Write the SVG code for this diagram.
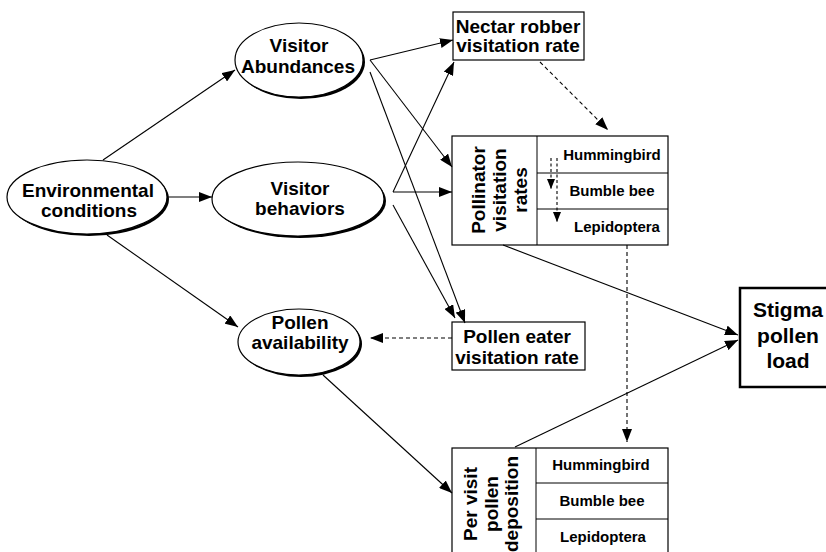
<svg xmlns="http://www.w3.org/2000/svg" width="826" height="552" viewBox="0 0 826 552">
<defs>
<marker id="ah" markerWidth="13" markerHeight="10" refX="13" refY="5" orient="auto" markerUnits="userSpaceOnUse"><path d="M0,0 L13,5 L0,10 z" fill="#000"/></marker>
<marker id="ahs" markerWidth="10" markerHeight="8" refX="10" refY="4" orient="auto" markerUnits="userSpaceOnUse"><path d="M0,0 L10,4 L0,8 z" fill="#000"/></marker>
</defs>
<style>
text{font-family:"Liberation Sans",Arial,sans-serif;font-weight:bold;fill:#000}
.big{font-size:19px;text-anchor:middle}
.stig{font-size:21px;text-anchor:middle}
.sm{font-size:15px;text-anchor:middle}
.shadow{fill:#000}
.ell{fill:#fff;stroke:#000;stroke-width:1.2}
.box{fill:#fff;stroke:#000;stroke-width:1.2}
.thick{fill:#fff;stroke:#000;stroke-width:2.5}
.div{stroke:#000;stroke-width:1}
.c{fill:none;stroke:#000;stroke-width:1.1;marker-end:url(#ah)}
.d{fill:none;stroke:#000;stroke-width:1.1;stroke-dasharray:4,3;marker-end:url(#ah)}
.ds{fill:none;stroke:#000;stroke-width:1.1;stroke-dasharray:3,2.5;marker-end:url(#ahs)}
</style>
<rect width="826" height="552" fill="#fff"/>

<g id="env">
<ellipse class="shadow" cx="89" cy="199" rx="80" ry="37"/>
<ellipse class="ell" cx="87" cy="197" rx="80" ry="37"/>
<text class="big" x="88" y="197">Environmental</text>
<text class="big" x="89" y="217">conditions</text>
</g>

<g id="abund">
<ellipse class="shadow" cx="301" cy="62" rx="64" ry="37"/>
<ellipse class="ell" cx="299" cy="60" rx="64" ry="37"/>
<text class="big" x="299" y="52">Visitor</text>
<text class="big" x="298" y="73">Abundances</text>
</g>

<g id="behav">
<ellipse class="shadow" cx="300" cy="201" rx="86" ry="37"/>
<ellipse class="ell" cx="298" cy="199" rx="86" ry="37"/>
<text class="big" x="300" y="195">Visitor</text>
<text class="big" x="300" y="215">behaviors</text>
</g>

<g id="pollenavail">
<ellipse class="shadow" cx="301" cy="344" rx="61" ry="33"/>
<ellipse class="ell" cx="299" cy="342" rx="61" ry="33"/>
<text class="big" x="300" y="329">Pollen</text>
<text class="big" x="300" y="349">availability</text>
</g>

<g id="nectar">
<rect class="box" x="453" y="12" width="131" height="48"/>
<text class="big" x="518" y="33">Nectar robber</text>
<text class="big" x="518" y="52">visitation rate</text>
</g>

<g id="pollinator">
<rect class="box" x="452" y="136" width="216" height="109"/>
<line class="div" x1="537" y1="136" x2="537" y2="245"/>
<line class="div" x1="537" y1="173" x2="668" y2="173"/>
<line class="div" x1="537" y1="209" x2="668" y2="209"/>
<text class="big" transform="translate(485,190) rotate(-90)">Pollinator</text>
<text class="big" transform="translate(506,190) rotate(-90)">visitation</text>
<text class="big" transform="translate(527,190) rotate(-90)">rates</text>
<text class="sm" x="612" y="160">Hummingbird</text>
<text class="sm" x="612" y="196">Bumble bee</text>
<text class="sm" x="617" y="232">Lepidoptera</text>
</g>

<g id="polleneater">
<rect class="box" x="452" y="322" width="133" height="48"/>
<text class="big" x="517" y="343">Pollen eater</text>
<text class="big" x="517" y="364">visitation rate</text>
</g>

<g id="stigma">
<rect class="thick" x="740" y="288" width="100" height="99"/>
<text class="stig" x="788" y="317">Stigma</text>
<text class="stig" x="788" y="343">pollen</text>
<text class="stig" x="788" y="368">load</text>
</g>

<g id="pervisit">
<rect class="box" x="452" y="448" width="216" height="120"/>
<line class="div" x1="536" y1="448" x2="536" y2="568"/>
<line class="div" x1="536" y1="483" x2="668" y2="483"/>
<line class="div" x1="536" y1="519" x2="668" y2="519"/>
<text class="big" transform="translate(477,504) rotate(-90)">Per visit</text>
<text class="big" transform="translate(498,504) rotate(-90)">pollen</text>
<text class="big" transform="translate(518,504) rotate(-90)">deposition</text>
<text class="sm" x="601" y="470">Hummingbird</text>
<text class="sm" x="602" y="506">Bumble bee</text>
<text class="sm" x="603" y="542">Lepidoptera</text>
</g>

<g id="connectors">
<line class="c" x1="103" y1="160" x2="235" y2="70"/>
<line class="c" x1="167" y1="197" x2="212" y2="197"/>
<line class="c" x1="107" y1="235" x2="238" y2="327"/>
<line class="c" x1="370" y1="60" x2="453" y2="40"/>
<line class="c" x1="370" y1="60" x2="452" y2="167"/>
<line class="c" x1="370" y1="72" x2="465" y2="323"/>
<line class="c" x1="393" y1="192" x2="454" y2="62"/>
<line class="c" x1="393" y1="192" x2="452" y2="192"/>
<line class="c" x1="393" y1="205" x2="455" y2="318"/>
<line class="d" x1="540" y1="62" x2="608" y2="130"/>
<line class="ds" x1="551" y1="158" x2="551" y2="189"/>
<line class="ds" x1="557" y1="158" x2="557" y2="222"/>
<line class="d" x1="627" y1="245" x2="627" y2="442"/>
<line class="c" x1="503" y1="245" x2="738" y2="335"/>
<line class="c" x1="515" y1="447" x2="738" y2="340"/>
<line class="c" x1="323" y1="375" x2="452" y2="493"/>
<line class="d" x1="452" y1="338" x2="370" y2="338"/>
</g>
</svg>
